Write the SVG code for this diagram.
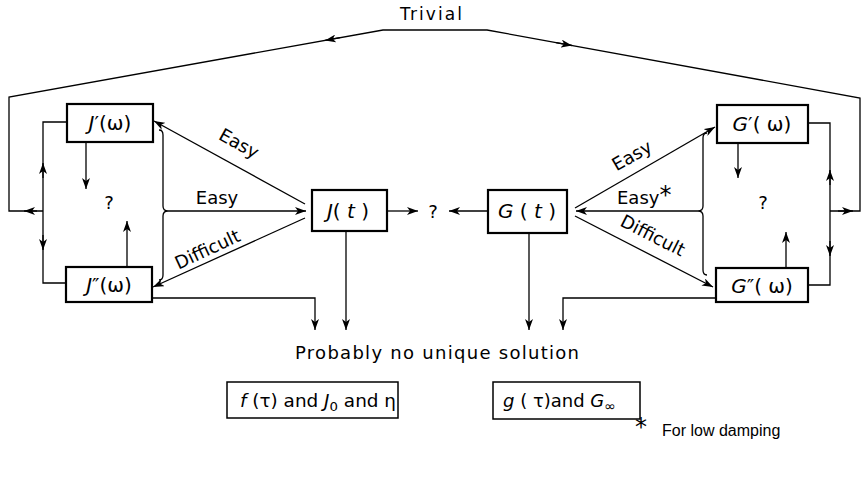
<svg xmlns="http://www.w3.org/2000/svg" width="865" height="477" viewBox="0 0 865 477">
<style>
.box{fill:#fff;stroke:#000;stroke-width:2.2}
.ln{fill:none;stroke:#000;stroke-width:1.3}
.ar{fill:none;stroke:#000;stroke-width:1.3;marker-end:url(#ah)}
text{font-family:"DejaVu Sans","Liberation Sans",sans-serif;fill:#000}
.lb{font-size:18px}
.nd{font-size:20px;text-anchor:middle;dominant-baseline:central}
.it{font-style:italic}
</style>
<defs>
<marker id="ah" markerUnits="userSpaceOnUse" markerWidth="12" markerHeight="8" refX="11" refY="4" orient="auto">
<path d="M0,0 L11,4 L0,8 L3,4 Z" fill="#000"/>
</marker>
</defs>
<g id="connectors">
<path class="ln" d="M43 211 H9 V97 L383 30 H487 L860 98 V211 H830"/>
<path class="ar" d="M340 37.7 L325 40.4"/>
<path class="ar" d="M556 42.6 L572 45.5"/>
<path class="ar" d="M37 211 L24 211"/>
<path class="ar" d="M838 211 L853 211"/>
<path class="ln" d="M67 122 H43 V283 H67"/>
<path class="ar" d="M43 178 L43 163"/>
<path class="ar" d="M43 235 L43 250"/>
<path class="ln" d="M808 123 H830 V285 H808"/>
<path class="ar" d="M830 185 L830 170"/>
<path class="ar" d="M830 241 L830 256"/>
<path class="ar" d="M86 142 L86 189"/>
<path class="ar" d="M127 267 L127 221"/>
<path class="ar" d="M738 143 L738 178"/>
<path class="ar" d="M786 268 L786 232"/>
<path class="ln" d="M159 130 Q163 130 163 135 V206 Q163 211 168 211 Q163 211 163 216 V275 Q163 280 159 280"/>
<path class="ln" d="M707 133 Q703 133 703 138 V206 Q703 211 698 211 Q703 211 703 216 V270 Q703 275 707 275"/>
<path class="ar" d="M305 204 L154 121"/>
<path class="ar" d="M168 211 L306 211"/>
<path class="ar" d="M305 218 L153 287"/>
<path class="ar" d="M575 208 L715 127"/>
<path class="ar" d="M698 211 L576 211"/>
<path class="ar" d="M575 216 L713 287"/>
<path class="ar" d="M387 211 L418 211"/>
<path class="ar" d="M488 211 L449 211"/>
<path class="ar" d="M346 231 L346 330"/>
<path class="ar" d="M529 233 L529 330"/>
<path class="ar" d="M152 298 H315 V330"/>
<path class="ar" d="M716 298 H563 V330"/>
</g>
<text x="431" y="20" font-size="17" text-anchor="middle" textLength="62" lengthAdjust="spacing">Trivial</text>
<g id="Jp"><rect class="box" x="67" y="104" width="86" height="38"/><text class="nd" x="110" y="123"><tspan class="it">J</tspan>′(ω)</text></g>
<g id="Jpp"><rect class="box" x="66" y="267" width="86" height="35"/><text class="nd" x="109" y="285"><tspan class="it">J</tspan>″(ω)</text></g>
<g id="Jt"><rect class="box" x="312" y="190" width="75" height="41"/><text class="nd" x="348" y="211"><tspan class="it">J</tspan>( <tspan class="it">t</tspan> )</text></g>
<g id="Gt"><rect class="box" x="488" y="190" width="79" height="43"/><text class="nd" x="527" y="211"><tspan class="it">G</tspan> ( <tspan class="it">t</tspan> )</text></g>
<g id="Gp"><rect class="box" x="717" y="105" width="91" height="38"/><text class="nd" x="762" y="124"><tspan class="it">G</tspan>′( ω)</text></g>
<g id="Gpp"><rect class="box" x="716" y="268" width="92" height="34"/><text class="nd" x="762" y="286"><tspan class="it">G</tspan>″( ω)</text></g>
<text class="lb" x="109" y="209" text-anchor="middle">?</text>
<text class="lb" x="763" y="209" text-anchor="middle">?</text>
<text class="lb" x="433" y="218" text-anchor="middle">?</text>
<text class="lb" text-anchor="middle" transform="translate(236,149) rotate(29)">Easy</text>
<text class="lb" x="217" y="204" text-anchor="middle">Easy</text>
<text class="lb" text-anchor="middle" transform="translate(210,255) rotate(-25)">Difficult</text>
<text class="lb" text-anchor="middle" transform="translate(635,161) rotate(-30)">Easy</text>
<text class="lb" x="617" y="204">Easy<tspan font-size="24" dy="-1">*</tspan></text>
<text class="lb" text-anchor="middle" transform="translate(650,241) rotate(27)">Difficult</text>
<text x="437" y="359" font-size="18" text-anchor="middle" textLength="284" lengthAdjust="spacing">Probably no unique solution</text>
<g id="f"><rect class="box" x="227" y="382" width="171" height="36" style="stroke-width:1.5"/><text x="240" y="407" font-size="18" textLength="156" lengthAdjust="spacingAndGlyphs"><tspan class="it">f</tspan> (τ) and <tspan class="it">J</tspan><tspan font-size="13" dy="4">0</tspan><tspan dy="-4"> and η</tspan></text></g>
<g id="g"><rect class="box" x="493" y="382" width="147" height="37" style="stroke-width:1.5"/><text x="503" y="407" font-size="18"><tspan class="it">g</tspan> ( τ)and <tspan class="it">G</tspan><tspan font-size="14" dy="4">∞</tspan></text></g>
<text x="641" y="435" font-size="24" text-anchor="middle">*</text>
<text x="662" y="436" font-size="16" style="font-family:'Liberation Sans',sans-serif">For low damping</text>
</svg>
